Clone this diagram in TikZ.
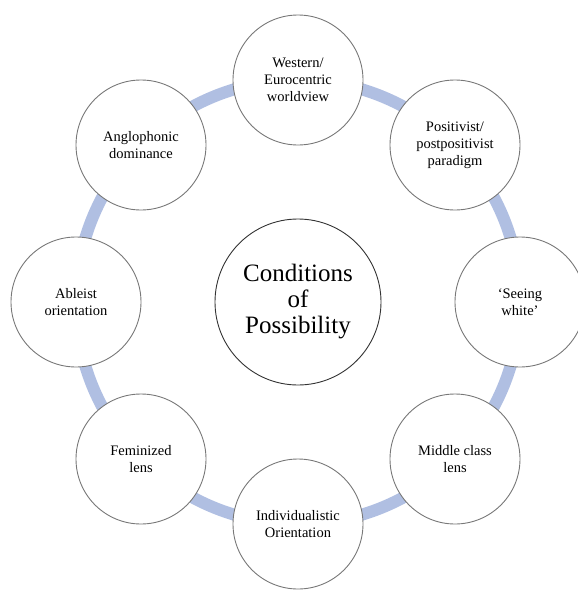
\documentclass[tikz,border=0pt]{standalone}
\usepackage{fontspec}
\setmainfont{Liberation Serif}
\definecolor{ringblue}{RGB}{176,191,226}
\definecolor{rimgray}{RGB}{120,120,120}
\begin{document}
\begin{tikzpicture}[x=1pt,y=-1pt,
  ring/.style={line width=12pt, draw=ringblue},
  outer/.style={circle, draw=rimgray, line width=0.9pt, fill=white,
    minimum size=130pt, inner sep=0pt, align=center,
    font=\fontsize{14.5}{17}\selectfont},
  core/.style={circle, draw=black!80, line width=0.9pt, fill=white,
    minimum size=166pt, inner sep=0pt, align=center,
    font=\fontsize{25}{26}\selectfont}]
\useasboundingbox (0,0) rectangle (578,590);
\coordinate (hub) at (298,302);
\draw[ring] (hub) circle (222pt);
\node[core] (center) at (hub) {Conditions\\of\\Possibility};
\node[outer] (west) at (298,80) {Western/\\Eurocentric\\worldview};
\node[outer] (posit) at (455,145) {Positivist/\\postpositivist\\paradigm};
\node[outer] (seeing) at (520,302) {‘Seeing\\white’};
\node[outer] (middle) at (455,459) {Middle class\\lens};
\node[outer] (indiv) at (298,524) {Individualistic\\Orientation};
\node[outer] (fem) at (141,459) {Feminized\\lens};
\node[outer] (able) at (76,302) {Ableist\\orientation};
\node[outer] (anglo) at (141,145) {Anglophonic\\dominance};
\end{tikzpicture}
\end{document}
